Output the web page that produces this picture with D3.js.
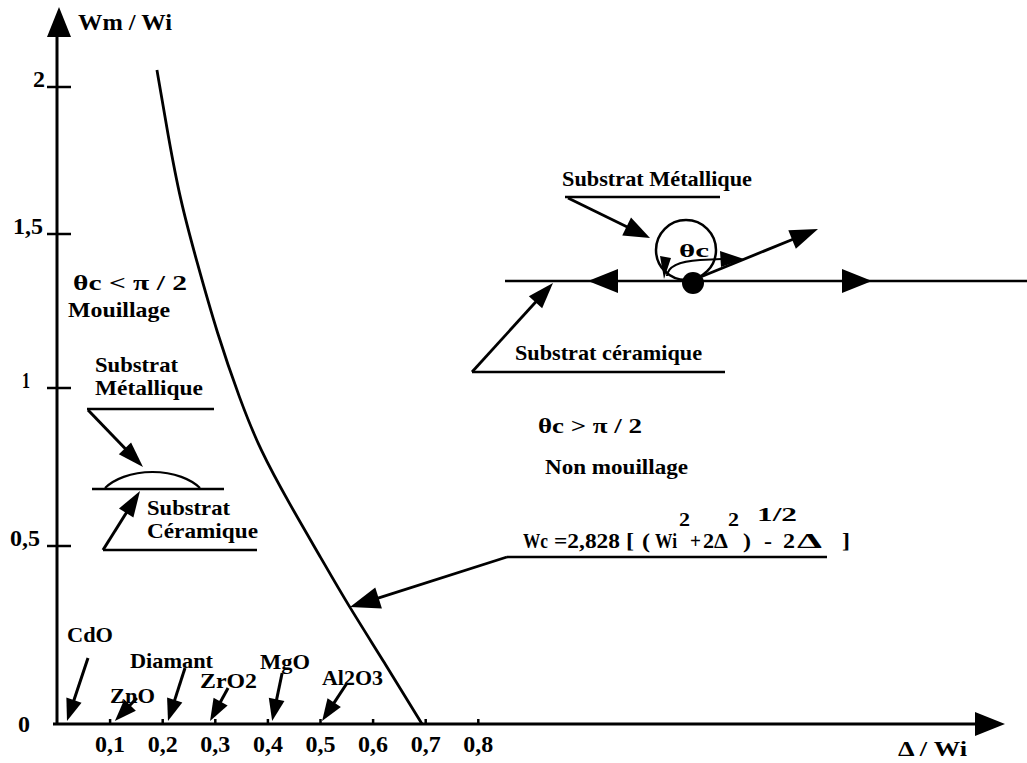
<!DOCTYPE html>
<html><head><meta charset="utf-8">
<script src="https://cdn.jsdelivr.net/npm/d3@7"></script>
<style>
body{margin:0;background:#fff}
svg{display:block}
text{font-family:"Liberation Serif","Times New Roman",serif;font-weight:bold;fill:#000}
</style>
</head><body>
<svg id="c" width="1027" height="763"></svg>
<script>
// ---------- data ----------
const xTickValues = [0.1, 0.2, 0.3, 0.4, 0.5, 0.6, 0.7, 0.8];
const xTickLabels = ["0,1", "0,2", "0,3", "0,4", "0,5", "0,6", "0,7", "0,8"];
const yTickValues = [0, 0.5, 1, 1.5, 2];
const yTickLabels = ["0", "0,5", "1", "1,5", "2"];
// critical curve Wm/Wi vs Delta/Wi
const curveDelta = [0.190, 0.211, 0.234, 0.266, 0.304, 0.348, 0.386, 0.441, 0.504, 0.551, 0.622, 0.694];
const curveWm    = [2.058, 1.837, 1.616, 1.409, 1.179, 0.962, 0.804, 0.636, 0.461, 0.340, 0.174, 0.000];
// ceramics marked on the Delta axis
const materials = ["CdO", "ZnO", "Diamant", "ZrO2", "MgO", "Al2O3"];
const materialDelta = [0.019, 0.110, 0.211, 0.291, 0.409, 0.504];

// ---------- layout ----------
const svg = d3.select("#c");
const x = d3.scaleLinear().domain([0, 1]).range([57, 583]);
const y = d3.scaleLinear().domain([0, 0.5, 1, 1.5, 2]).range([724, 546, 388, 234, 87]);
const AX = x(0), AY = y(0);

function txt(s, px, py, size, len, anchor) {
  const t = svg.append("text").attr("x", px).attr("y", py)
    .attr("font-size", size).attr("text-anchor", anchor || "start").text(s);
  if (len) t.attr("textLength", len).attr("lengthAdjust", "spacingAndGlyphs");
  return t;
}
function line(x1, y1, x2, y2, sw) {
  svg.append("line").attr("x1", x1).attr("y1", y1).attr("x2", x2).attr("y2", y2)
    .attr("stroke", "#000").attr("stroke-width", sw || 2.5).attr("stroke-linecap", "butt");
}
function arrow(x1, y1, x2, y2, len, w, sw) {
  const dx = x2 - x1, dy = y2 - y1, L = Math.hypot(dx, dy), ux = dx / L, uy = dy / L;
  const bx = x2 - ux * len, by = y2 - uy * len;
  line(x1, y1, bx + ux * 3, by + uy * 3, sw);
  svg.append("path")
    .attr("d", `M${x2},${y2}L${bx - uy * w / 2},${by + ux * w / 2}L${bx + uy * w / 2},${by - ux * w / 2}Z`)
    .attr("fill", "#000");
}

// ---------- axes ----------
line(AX, AY + 1, AX, 34, 3);
svg.append("path").attr("d", `M${AX + 2},7L${AX - 10},37L${AX + 14},37Z`).attr("fill", "#000");
line(53, AY, 978, AY, 3);
svg.append("path").attr("d", `M1005,${AY}L975,${AY - 12}L975,${AY + 12}Z`).attr("fill", "#000");

const xAxis = d3.axisBottom(x).tickValues(xTickValues)
  .tickFormat((d, i) => xTickLabels[i]).tickSize(0).tickPadding(0);
const gx = svg.append("g").attr("transform", `translate(0,${AY})`).call(xAxis);
gx.select(".domain").remove();
gx.attr("font-family", null).attr("font-size", null);
gx.selectAll(".tick text").attr("y", 28).attr("dy", null)
  .attr("font-size", 23).attr("fill", "#000")
  .attr("textLength", 30).attr("lengthAdjust", "spacingAndGlyphs");
gx.selectAll(".tick").append("line").attr("y1", 0).attr("y2", -5)
  .attr("stroke", "#000").attr("stroke-width", 2.5);

const yLabelX = [24, 25, 26, 28, 39];
const yLabelLen = [12, 30, 8, 30, 12];
yTickValues.forEach((v, i) => {
  if (i > 0) line(AX - 10, y(v), AX + 14, y(v), 2.5);
  txt(yTickLabels[i], yLabelX[i], y(v) + (i === 0 ? 8 : 0), 23, yLabelLen[i], "middle");
});

txt("Wm / Wi", 78, 30, 24, 94);
txt("Δ / Wi", 898, 756, 22, 69);

// ---------- critical curve ----------
const curvePts = curveDelta.map((d, i) => [x(d), y(curveWm[i])]);
svg.append("path").datum(curvePts)
  .attr("d", d3.line().curve(d3.curveBasis))
  .attr("fill", "none").attr("stroke", "#000").attr("stroke-width", 2.8);

// ---------- materials ----------
const matArrowFrom = [[21, -63], [22, -23], [17, -53], [18, -33], [10, -48], [25, -38]];
const matLabelPos = [[67, 642], [110, 703], [130, 668], [200, 688], [260, 669], [322, 685]];
const matLabelLen = [46, 45, 83, 57, 50, 61];
materials.forEach((m, i) => {
  const tx = x(materialDelta[i]), ty = AY - 3;
  arrow(tx + matArrowFrom[i][0], ty + matArrowFrom[i][1], tx, ty, 22, 16, 3);
  txt(m, matLabelPos[i][0], matLabelPos[i][1], 22, matLabelLen[i]);
});

// ---------- left region annotations ----------
txt("θc < π / 2", 73, 290, 22, 114);
txt("Mouillage", 68, 317, 22, 102);
txt("Substrat", 95, 372, 21, 83);
txt("Métallique", 95, 395, 21, 108);
line(87, 409, 214, 409, 2.5);
arrow(88, 410, 143, 467, 26, 17, 3);
svg.append("path").attr("d", "M105,488 A56,34 0 0 1 200,488")
  .attr("fill", "none").attr("stroke", "#000").attr("stroke-width", 2.2);
line(92, 489, 224, 489, 2.5);
arrow(103, 550, 140, 491, 26, 17, 3);
line(103, 550, 257, 550, 2.5);
txt("Substrat", 147, 515, 21, 83);
txt("Céramique", 147, 538, 21, 111);

// ---------- right region annotations ----------
txt("Substrat Métallique", 562, 186, 22, 190);
line(565, 197, 720, 197, 2.5);
arrow(568, 198, 650, 238, 26, 20, 2.8);
svg.append("circle").attr("cx", 686).attr("cy", 250).attr("r", 30)
  .attr("fill", "none").attr("stroke", "#000").attr("stroke-width", 2.5);
txt("θc", 679, 257, 19, 30);
line(505, 281, 1027, 281, 2.5);
svg.append("path").attr("d", "M588,281L618,269L618,293Z").attr("fill", "#000");
svg.append("path").attr("d", "M872,281L842,269L842,293Z").attr("fill", "#000");
svg.append("circle").attr("cx", 693).attr("cy", 283).attr("r", 11).attr("fill", "#000");
arrow(698, 278, 818, 229, 28, 20, 2.8);
svg.append("path").attr("d", "M667,276 Q668,262 700,260 L722,259")
  .attr("fill", "none").attr("stroke", "#000").attr("stroke-width", 2.2);
svg.append("path").attr("d", "M664,279L660,256L671,258Z").attr("fill", "#000");
svg.append("path").attr("d", "M744,259L720,251L721,267Z").attr("fill", "#000");
txt("Substrat céramique", 515, 360, 22, 187);
line(472, 372, 725, 372, 2.5);
arrow(472, 372, 553, 283, 26, 18, 2.8);

txt("θc > π / 2", 538, 433, 22, 104);
txt("Non mouillage", 545, 474, 22, 143);

// formula
const fs = 22, fsup = 18;
txt("Wc", 523, 548, fs, 25);
txt("=2,828", 554, 548, fs, 66);
txt("[", 626, 548, fs, 8);
txt("(", 642, 548, fs, 8);
txt("Wi", 655, 548, fs, 22);
txt("2", 679, 526, fsup, 11);
txt("+", 690, 548, fs, 11);
txt("2Δ", 703, 548, fs, 25);
txt("2", 728, 526, fsup, 11);
txt(")", 743, 548, fs, 8);
txt("1/2", 757, 521, fsup, 40);
txt("-", 764, 548, fs, 8);
txt("2", 783, 548, fs, 12);
txt("Δ", 797, 548, fs, 25);
txt("]", 842, 548, fs, 8);
line(507, 557, 827, 557, 2.5);
arrow(507, 557, 350, 607, 30, 22, 2.8);
</script>
</body></html>
